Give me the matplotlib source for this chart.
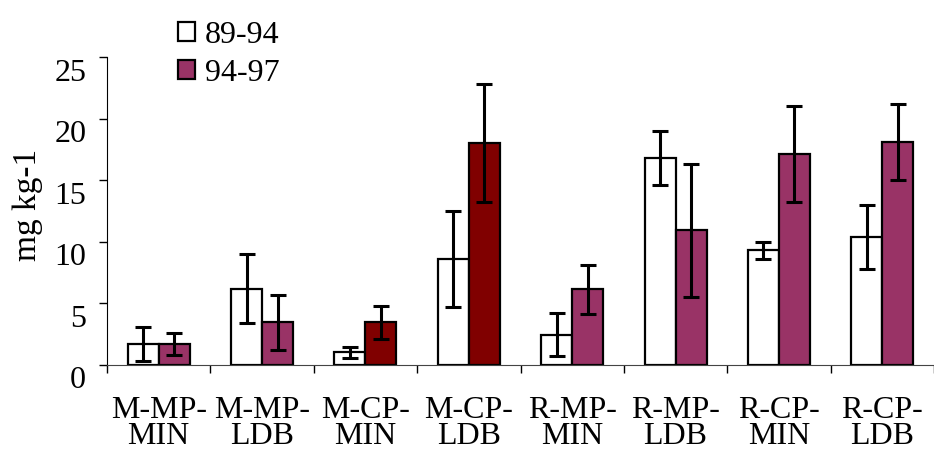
import matplotlib
matplotlib.use('Agg')
import matplotlib.pyplot as plt
import matplotlib.transforms as mtransforms
import numpy as np

plt.rcParams['font.family'] = ['Liberation Serif', 'DejaVu Serif']

# Data
sites = ['M-MP-\nMIN', 'M-MP-\nLDB', 'M-CP-\nMIN', 'M-CP-\nLDB',
         'R-MP-\nMIN', 'R-MP-\nLDB', 'R-CP-\nMIN', 'R-CP-\nLDB']
p8994 = [1.7, 6.2, 1.05, 8.6, 2.45, 16.8, 9.3, 10.4]
err8994 = [1.4, 2.8, 0.45, 3.9, 1.75, 2.2, 0.7, 2.6]
p9497 = [1.7, 3.45, 3.45, 18.0, 6.15, 10.95, 17.1, 18.1]
err9497 = [0.9, 2.25, 1.35, 4.8, 2.0, 5.4, 3.9, 3.1]

purple = '#993366'
darkred = '#800000'
colors9497 = [purple, purple, darkred, darkred, purple, purple, purple, purple]

fig = plt.figure(figsize=(9.34, 4.5), dpi=100)
ax = fig.add_axes([0.1146, 0.1889, 0.8854, 0.6844])

x = np.arange(len(sites))
w = 0.3
ekw = dict(elinewidth=2.2, capsize=5.5, capthick=2.2, ecolor='black')

ax.bar(x - w / 2, p8994, w, color='white', edgecolor='black', linewidth=1.6,
       yerr=err8994, error_kw=ekw, label='89-94')
ax.bar(x + w / 2, p9497, w, color=colors9497, edgecolor='black', linewidth=1.6,
       yerr=err9497, error_kw=ekw, label='94-97')

ax.set_xlim(-0.5, len(sites) - 0.5)
ax.set_ylim(0, 25)
ax.set_yticks([0, 5, 10, 15, 20, 25])
ax.tick_params(axis='y', labelsize=23, length=6, width=1, pad=9, direction='out')
# y labels sit a little below their ticks in the reference
shift = mtransforms.ScaledTranslation(0, -9 / 72, fig.dpi_scale_trans)
for lab in ax.get_yticklabels():
    lab.set_transform(lab.get_transform() + shift)

ax.set_xticks(x)
ax.set_xticklabels(sites, fontsize=23, linespacing=0.88)
ax.tick_params(axis='x', which='major', length=0, pad=22)
ax.set_xticks(np.arange(-0.5, len(sites)), minor=True)
ax.tick_params(axis='x', which='minor', length=6, width=1, direction='out')

for s in ['top', 'right']:
    ax.spines[s].set_visible(False)
ax.spines['bottom'].set_color('#444444')

ax.set_ylabel('mg kg-1', fontsize=24)
ax.yaxis.set_label_coords(-0.078, 0.52)

# Key Box
ax.legend(loc='upper left', bbox_to_anchor=(0.07, 1.16), frameon=False, fontsize=23,
          handlelength=0.55, handleheight=0.55, handletextpad=0.3, labelspacing=0.3,
          borderaxespad=0)

fig.savefig('out.png', dpi=100)
